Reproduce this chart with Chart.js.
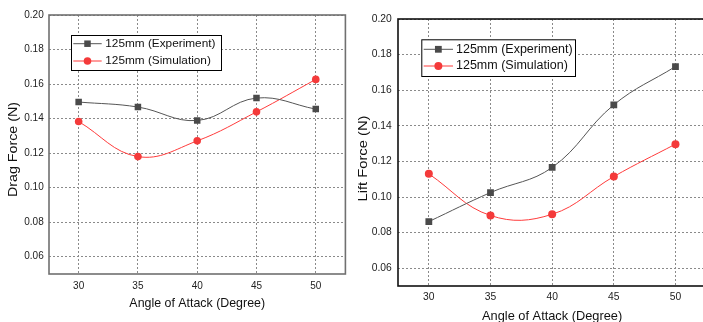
<!DOCTYPE html>
<html><head><meta charset="utf-8">
<script src="https://cdn.jsdelivr.net/npm/chart.js@4"></script>
<style>
html,body{margin:0;padding:0;background:#fff;overflow:hidden;width:703px;height:322px;position:relative;}
#c1{position:absolute;left:0;top:0;}
#c2{position:absolute;left:353px;top:0;}
</style></head><body>
<canvas id="c1" width="350" height="322"></canvas>
<canvas id="c2" width="360" height="330"></canvas>
<script>
// ---- data ----
const angles = [30, 35, 40, 45, 50];
const dragExperiment = [0.1496, 0.1467, 0.1389, 0.1519, 0.1455];
const dragSimulation = [0.1383, 0.1180, 0.1271, 0.1439, 0.1627];
const liftExperiment = [0.0862, 0.1025, 0.1166, 0.1518, 0.1733];
const liftSimulation = [0.1130, 0.0896, 0.0903, 0.1115, 0.1297];
const xTickValues = [30, 35, 40, 45, 50];
const yTickValues = [0.06, 0.08, 0.10, 0.12, 0.14, 0.16, 0.18, 0.20];
const seriesNames = ['125mm (Experiment)', '125mm (Simulation)'];
const xTitle = 'Angle of Attack (Degree)';
const yTitles = ['Drag Force (N)', 'Lift Force (N)'];

const FONT = '"Liberation Sans", Arial, sans-serif';

const framePlugin = {
  id: 'frame',
  beforeDatasetsDraw(chart, args, o) {
    const {left, top, right, bottom} = chart.chartArea;
    const ctx = chart.ctx;
    ctx.save();
    ctx.strokeStyle = o.color; ctx.lineWidth = o.width;
    ctx.strokeRect(left, top, right - left, bottom - top);
    ctx.restore();
  }
};

// shifts / stretches the native y-axis title along its length
const yTitleShape = {
  id: 'yTitleShape',
  afterLayout(chart, args, o) {
    const s = chart.scales.y;
    if (s._shaped) return;
    const orig = s.drawTitle.bind(s);
    s.drawTitle = function () {
      const ctx = this.ctx, cy = (this.top + this.bottom) / 2;
      ctx.save();
      ctx.translate(0, cy + o.dy);
      ctx.scale(1, o.sy);
      ctx.translate(0, -cy);
      orig();
      ctx.restore();
    };
    s._shaped = true;
  }
};

const boxLegend = {
  id: 'boxLegend',
  afterDatasetsDraw(chart, args, o) {
    const ctx = chart.ctx;
    ctx.save();
    ctx.fillStyle = '#fff';
    ctx.fillRect(o.x, o.y, o.w, o.h);
    ctx.strokeStyle = '#000'; ctx.lineWidth = 1;
    ctx.strokeRect(o.x + 0.5, o.y + 0.5, o.w, o.h);
    chart.data.datasets.forEach((ds, i) => {
      const y = o.y + o.rows[i];
      const x0 = o.x + o.line[0], x1 = o.x + o.line[1];
      ctx.strokeStyle = ds.borderColor; ctx.lineWidth = ds.borderWidth;
      ctx.beginPath(); ctx.moveTo(x0, y); ctx.lineTo(x1, y); ctx.stroke();
      ctx.fillStyle = ds.pointBackgroundColor; ctx.strokeStyle = ds.pointBorderColor;
      Chart.helpers.drawPoint(ctx, {pointStyle: ds.pointStyle, radius: ds.pointRadius, borderWidth: 0, rotation: 0}, (x0 + x1) / 2, y);
      ctx.fillStyle = '#111';
      ctx.font = o.size + 'px ' + FONT;
      ctx.textBaseline = 'middle'; ctx.textAlign = 'left';
      ctx.fillText(ds.label, o.x + o.textX, y);
    });
    ctx.restore();
  }
};

function pts(ys) { return angles.map((a, i) => ({x: a, y: ys[i]})); }

function makeChart(id, exp, sim, yTitle, g) {
  const canvas = document.getElementById(id);
  return new Chart(canvas, {
    type: 'line',
    data: {
      datasets: [
        {label: seriesNames[0], data: pts(exp), borderColor: '#555555', borderWidth: 1,
         pointStyle: 'rect', pointRadius: g.sq, pointBackgroundColor: '#4a4a4a', pointBorderColor: '#4a4a4a', pointBorderWidth: 0,
         tension: 0.4, fill: false},
        {label: seriesNames[1], data: pts(sim), borderColor: '#ff3b3b', borderWidth: 1,
         pointStyle: 'circle', pointRadius: g.ci, pointBackgroundColor: '#f43a3a', pointBorderColor: '#f43a3a', pointBorderWidth: 0,
         tension: 0.4, fill: false}
      ]
    },
    options: {
      responsive: false, animation: false, devicePixelRatio: 1,
      layout: {padding: {top: g.T, right: g.W - g.R, bottom: 0, left: 0}},
      plugins: {
        legend: {display: false}, tooltip: {enabled: false},
        frame: {color: g.frame, width: g.fw},
        yTitleShape: {dy: g.tdy, sy: g.tsy},
        boxLegend: g.legend
      },
      scales: {
        x: {
          type: 'linear', min: 27.5, max: 52.5,
          afterBuildTicks: s => { s.ticks = xTickValues.map(v => ({value: v})); },
          afterFit: s => { s.height = g.H - g.B; },
          grid: {color: '#8a8a8a', lineWidth: 1, drawTicks: false},
          border: {display: false, dash: [2, 2]},
          ticks: {padding: g.xPad, color: '#222', font: {family: FONT, size: g.tick}, maxRotation: 0, autoSkip: false},
          title: {display: true, text: xTitle, color: '#111', font: {family: FONT, size: g.title}, padding: {top: 0, bottom: g.xtb}}
        },
        y: {
          type: 'linear', min: 0.05, max: 0.20,
          afterBuildTicks: s => { s.ticks = yTickValues.map(v => ({value: v})); },
          afterFit: s => { s.width = g.L; },
          grid: {color: '#8a8a8a', lineWidth: 1, drawTicks: false},
          border: {display: false, dash: [2, 2]},
          ticks: {padding: g.yPad, color: '#222', font: {family: FONT, size: g.tick}, callback: v => Number(v).toFixed(2), autoSkip: false},
          title: {display: true, text: yTitle, color: '#111', font: {family: FONT, size: g.title}, padding: {top: g.ytp, bottom: 0}}
        }
      }
    },
    plugins: [framePlugin, boxLegend, yTitleShape]
  });
}

makeChart('c1', dragExperiment, dragSimulation, yTitles[0], {
  W: 350, H: 322, L: 49, T: 15, R: 347, B: 274,
  frame: '#707070', fw: 1.6, sq: 4.6, ci: 3.8, tick: 10, title: 12.4,
  xPad: 6, yPad: 5.3, xtb: 10.5, ytp: 6.6, tdy: 5, tsy: 1.15,
  legend: {x: 71, y: 35, w: 150, h: 35, rows: [8.7, 26], line: [2.3, 30.7], textX: 34.3, size: 11.8}
});
makeChart('c2', liftExperiment, liftSimulation, yTitles[1], {
  W: 360, H: 330, L: 45, T: 19, R: 353.3, B: 286,
  frame: '#111111', fw: 1.6, sq: 4.8, ci: 4, tick: 10.3, title: 12.8,
  xPad: 4.5, yPad: 6.3, xtb: 5.9, ytp: 2.6, tdy: 6, tsy: 1.15,
  legend: {x: 68.3, y: 39.3, w: 153.7, h: 36.7, rows: [10, 26.7], line: [2.4, 31.7], textX: 34.7, size: 12.5}
});
</script>
</body></html>
